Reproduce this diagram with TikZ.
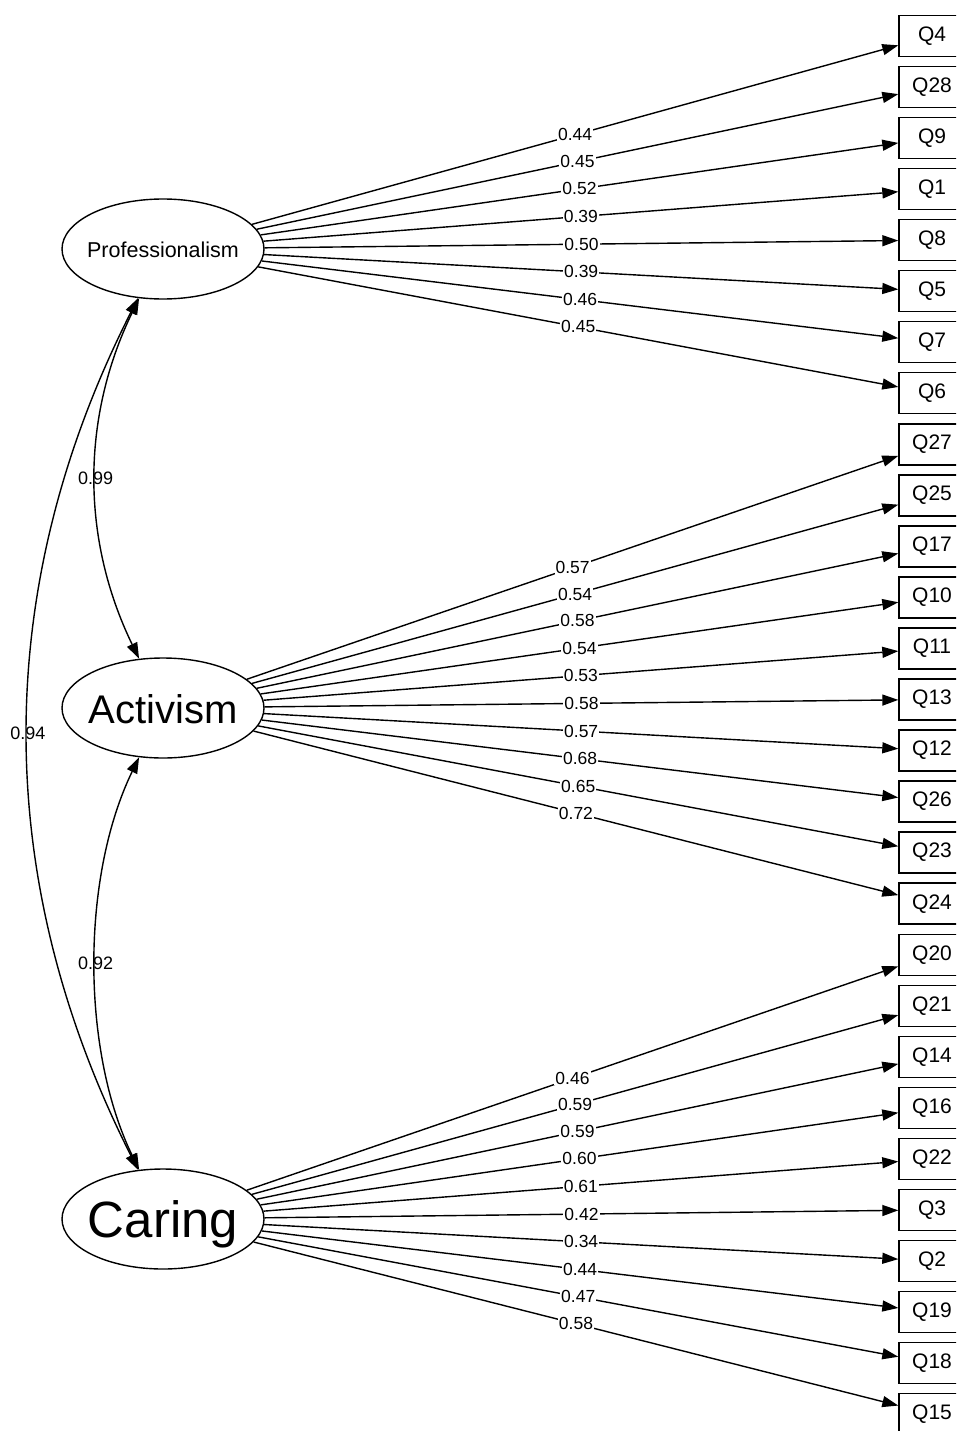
\documentclass[tikz,border=0pt]{standalone}
\usepackage{fontspec}
\setmainfont{Liberation Sans}
\usetikzlibrary{arrows.meta,shapes.geometric}
\begin{document}
\begin{tikzpicture}[x=1pt,y=-1pt,
 latent/.style={draw,ellipse,line width=1.4pt,minimum width=202pt,minimum height=100pt,inner sep=0pt},
 lattext/.style={anchor=base,inner sep=0pt},
 qbox/.style={draw,rectangle,line width=1.4pt,minimum width=66pt,minimum height=41pt,inner sep=0pt,font=\fontsize{21}{21}\selectfont},
 load/.style={line width=1.4pt,-{Triangle[length=16pt,width=11pt]}},
 lbl/.style={fill=white,inner sep=1pt,font=\fontsize{17.5}{17.5}\selectfont},
 corr/.style={line width=1.4pt,{Triangle[length=16pt,width=11pt]}-{Triangle[length=16pt,width=11pt]}},
 clbl/.style={inner sep=0pt,font=\fontsize{18}{18}\selectfont}]
\clip (0,0) rectangle (956,1431);
\fill[white] (0,0) rectangle (956,1431);

\node[latent] (P) at (163,249) {};
\node[lattext,font=\fontsize{21.5}{22}\selectfont] (Pt) at (163,258) {Professionalism};
\node[latent] (A) at (163,708) {};
\node[lattext,font=\fontsize{40}{40}\selectfont] (At) at (163,723) {Activism};
\node[latent] (C) at (163,1219) {};
\node[lattext,font=\fontsize{51}{51}\selectfont] (Ct) at (163,1237) {Caring};

\foreach \q/\v/\f [count=\i from 0] in {
 Q4/0.44/P, Q28/0.45/P, Q9/0.52/P, Q1/0.39/P, Q8/0.50/P, Q5/0.39/P, Q7/0.46/P, Q6/0.45/P,
 Q27/0.57/A, Q25/0.54/A, Q17/0.58/A, Q10/0.54/A, Q11/0.53/A, Q13/0.58/A, Q12/0.57/A, Q26/0.68/A, Q23/0.65/A, Q24/0.72/A,
 Q20/0.46/C, Q21/0.59/C, Q14/0.59/C, Q16/0.60/C, Q22/0.61/C, Q3/0.42/C, Q2/0.34/C, Q19/0.44/C, Q18/0.47/C, Q15/0.58/C}{
  \node[qbox] (\q) at (932,{36+51.04*\i}) {\q};
  \draw[load] (\f) -- node[lbl,midway] {\v} (\q);
}

\draw[corr] (P) .. controls (81,418) and (81,539) .. node[clbl,pos=0.5] {0.99} (A);
\draw[corr] (A) .. controls (81,877) and (81,1050) .. node[clbl,pos=0.5] {0.92} (C);
\draw[corr] (P) .. controls (-9,588) and (-9,879) .. node[clbl,pos=0.5] {0.94} (C);
\end{tikzpicture}
\end{document}
